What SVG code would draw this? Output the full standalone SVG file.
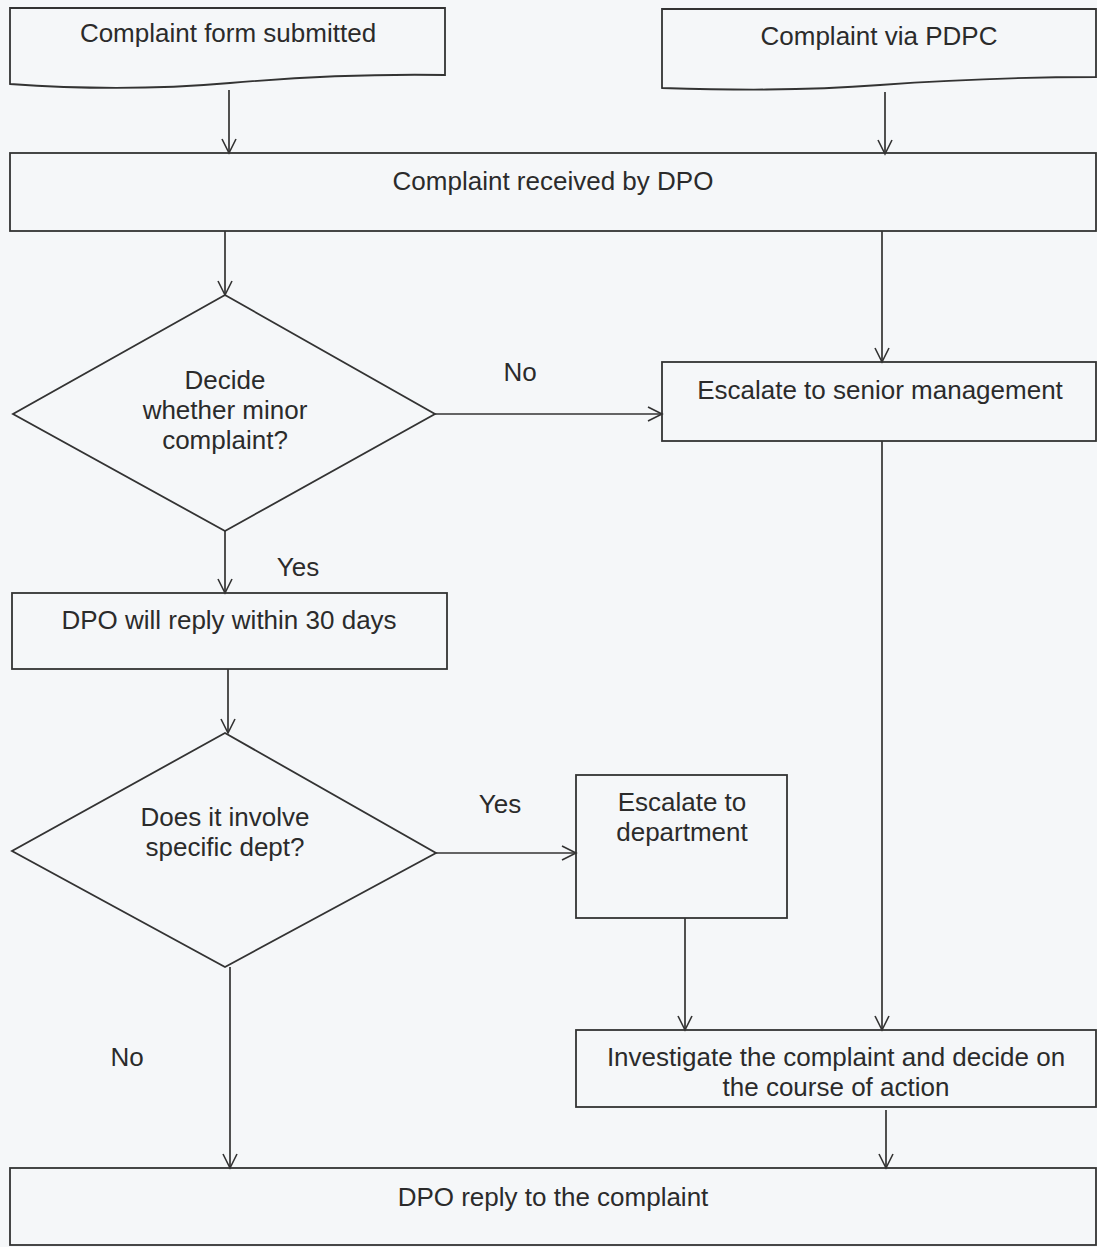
<svg xmlns="http://www.w3.org/2000/svg" width="1097" height="1247" viewBox="0 0 1097 1247">
<style>
.shape{fill:none;stroke:#333;stroke-width:1.8}
.conn{fill:none;stroke:#333;stroke-width:1.7}
text{font-family:"Liberation Sans",Arial,sans-serif;font-size:26px;fill:#2b2b2b;text-anchor:middle}
</style>
<defs>
<marker id="arr" markerUnits="userSpaceOnUse" markerWidth="18" markerHeight="18" viewBox="0 0 18 18" refX="16" refY="9" orient="auto">
<path d="M2,2 L16,9 L2,16" fill="none" stroke="#333" stroke-width="1.6"/>
</marker>
</defs>
<rect width="1097" height="1247" fill="#f5f7f9"/>
<g id="n1">
<path class="shape" d="M10,8 H445 V75 C380,74 310,76 230,83 C150,90 80,89 10,84 Z"/>
<text x="228" y="42">Complaint form submitted</text>
</g>
<g id="n2">
<path class="shape" d="M662,9 H1096 V77 C1030,77 960,79 880,85 C800,91 730,90 662,88 Z"/>
<text x="879" y="45">Complaint via PDPC</text>
</g>
<g id="n3">
<rect class="shape" x="10" y="153" width="1086" height="78"/>
<text x="553" y="190">Complaint received by DPO</text>
</g>
<g id="n4">
<polygon class="shape" points="225,295 435,414 225,531 13,414"/>
<text x="225" y="389">Decide</text>
<text x="225" y="419">whether minor</text>
<text x="225" y="449">complaint?</text>
</g>
<g id="n5">
<rect class="shape" x="662" y="362" width="434" height="79"/>
<text x="880" y="399">Escalate to senior management</text>
</g>
<g id="n6">
<rect class="shape" x="12" y="593" width="435" height="76"/>
<text x="229" y="629">DPO will reply within 30 days</text>
</g>
<g id="n7">
<polygon class="shape" points="225,733 436,853 225,967 12,851"/>
<text x="225" y="826">Does it involve</text>
<text x="225" y="856">specific dept?</text>
</g>
<g id="n8">
<rect class="shape" x="576" y="775" width="211" height="143"/>
<text x="682" y="811">Escalate to</text>
<text x="682" y="841">department</text>
</g>
<g id="n9">
<rect class="shape" x="576" y="1030" width="520" height="77"/>
<text x="836" y="1066">Investigate the complaint and decide on</text>
<text x="836" y="1096">the course of action</text>
</g>
<g id="n10">
<rect class="shape" x="10" y="1168" width="1086" height="77"/>
<text x="553" y="1206">DPO reply to the complaint</text>
</g>
<g id="connectors">
<line class="conn" x1="229" y1="90" x2="229" y2="153" marker-end="url(#arr)"/>
<line class="conn" x1="885" y1="92" x2="885" y2="154" marker-end="url(#arr)"/>
<line class="conn" x1="225" y1="231" x2="225" y2="295" marker-end="url(#arr)"/>
<line class="conn" x1="882" y1="231" x2="882" y2="362" marker-end="url(#arr)"/>
<line class="conn" x1="435" y1="414" x2="662" y2="414" marker-end="url(#arr)"/>
<text x="520" y="381">No</text>
<line class="conn" x1="225" y1="531" x2="225" y2="593" marker-end="url(#arr)"/>
<text x="298" y="576">Yes</text>
<line class="conn" x1="228" y1="669" x2="228" y2="733" marker-end="url(#arr)"/>
<line class="conn" x1="436" y1="853" x2="576" y2="853" marker-end="url(#arr)"/>
<text x="500" y="813">Yes</text>
<line class="conn" x1="685" y1="918" x2="685" y2="1030" marker-end="url(#arr)"/>
<line class="conn" x1="882" y1="441" x2="882" y2="1030" marker-end="url(#arr)"/>
<line class="conn" x1="886" y1="1110" x2="886" y2="1168" marker-end="url(#arr)"/>
<line class="conn" x1="230" y1="967" x2="230" y2="1168" marker-end="url(#arr)"/>
<text x="127" y="1066">No</text>
</g>
</svg>
